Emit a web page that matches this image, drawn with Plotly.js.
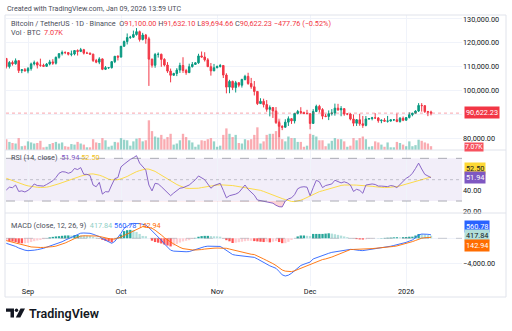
<!DOCTYPE html>
<html><head><meta charset="utf-8">
<script src="https://cdn.plot.ly/plotly-3.0.1.min.js"></script>
<style>html,body{margin:0;padding:0;background:#fff}#c{width:512px;height:331px}</style>
</head><body><div id="c"></div>
<script>
// ---- data (BTCUSDT 1D, Binance) ----
const startDate = '2025-08-25';
const open = [113500,110100,111800,111250,112550,108400,108800,
108250,109250,111200,111700,110700,110650,110200,111150,112050,111500,113950,115500,116000,115950,115250,115350,116800,116450,117150,115700,115700,115300,112650,111950,113300,108950,109650,109650,112150,114400,
114050,118600,120550,122250,122400,123500,124700,121400,123300,121700,113200,110650,115150,115250,113100,110750,108200,106450,107200,108650,110550,108450,107550,110050,111000,111650,114550,114100,112900,110050,108300,
109600,110100,110550,106550,101500,103900,101300,103350,102300,104700,106000,103000,101650,99700,94600,95550,94200,92200,92950,91550,86650,85100,84700,86850,88300,87350,90500,91300,90900,90400,
90400,86300,91300,93450,92100,89350,89250,90400,90650,92700,92000,92500,90250,90250,88150,86400,87850,86150,85500,88150,88350,88650,88600,87450,87650,87250,87300,87800,87850,87150,88450,
87650,88750,89950,90600,91500,93850,93750,91250,91100];
const high = [113650,112400,112600,113500,112650,108950,109500,
109900,111750,112600,112200,113400,111300,111600,112900,113200,114300,115600,116800,116450,116150,116800,117000,117300,117900,117500,116300,115950,115450,113300,114000,113500,110300,109800,112400,114450,114850,
118650,121000,123950,122950,125150,126200,125150,124200,123750,122550,113400,115800,116000,115500,113600,111950,109250,107500,109450,111700,114000,109150,111300,112000,111950,115450,116400,116100,113650,111600,111200,
110550,111200,110750,107300,104550,104200,104100,103450,105000,106650,107500,105350,104050,99850,96850,96650,96050,93850,92950,93150,87450,85550,88050,89250,88500,90650,91950,93100,91200,92000,
90400,92300,94150,94100,92700,90300,91750,92300,94600,94500,93550,92750,90650,90550,90050,88150,90350,89450,89400,88550,89050,90600,88950,88000,88500,89450,87950,88100,90400,89000,89200,
88900,90950,90750,91800,94800,94800,93850,91550,91632.10];
const low = [109300,109300,110500,110900,107400,107350,108100,
107300,108400,110550,109300,110000,109900,110000,110600,110800,110950,113400,114750,115300,114750,114400,114800,114700,116150,115150,115500,115200,112000,111500,111100,108600,108650,109100,109250,111550,112650,
113950,118400,119350,121650,122100,123050,120550,121050,119650,102000,109650,109600,113850,110000,110150,107450,103500,106350,106100,107450,107450,106650,107500,109700,110850,111250,113850,112200,109950,106300,108200,
109400,109700,105300,98900,98950,100250,99250,101450,101300,104300,102450,100800,98000,94000,94550,93000,91200,89250,88600,86100,80600,83500,84650,85250,86100,86300,90100,90200,90250,90350,
83850,86200,91050,90900,88050,88900,87700,89600,89550,91550,89300,89500,89750,87600,85150,85250,85300,84450,85100,87850,87600,88150,86600,86400,86950,86650,87100,87300,86800,86600,87250,
87550,88400,89300,90500,91100,91250,90700,89350,89694.66];
const close = [110100,111800,111250,112550,108400,108800,108250,
109250,111200,111700,110700,110650,110200,111150,112050,111500,113950,115500,116000,115950,115250,115350,116800,116450,117150,115700,115700,115300,112650,111950,113300,108950,109650,109650,112150,114400,114050,
118600,120550,122250,122400,123500,124700,121400,123300,121700,113200,110650,115150,115250,113100,110750,108200,106450,107200,108650,110550,108450,107550,110050,111000,111650,114550,114100,112900,110050,108300,109600,
110100,110550,106550,101500,103900,101300,103350,102300,104700,106000,103000,101650,99700,94600,95550,94200,92200,92950,91550,86650,85100,84700,86850,88300,87350,90500,91300,90900,90400,90400,
86300,91300,93450,92100,89350,89250,90400,90650,92700,92000,92500,90250,90250,88150,86400,87850,86150,85500,88150,88350,88650,88600,87450,87650,87250,87300,87800,87850,87150,88450,87650,
88750,89950,90600,91500,93850,93750,91250,91100,90622.23];
const lastChange = '\u2212477.76 (\u22120.52%)';
const volume = [20000,15000,13000,12000,22000,7000,8000,
16000,14000,12000,13000,17000,5000,6000,11000,13000,15000,12000,14000,7000,6000,11000,10000,15000,12000,10000,5000,5000,20000,14000,13000,22000,18000,6000,8000,15000,14000,
22000,19000,18000,8000,16000,21000,22000,16000,18000,55000,35000,25000,23000,28000,20000,24000,30000,10000,12000,18000,30000,24000,18000,14000,6000,10000,18000,17000,20000,22000,16000,
6000,8000,28000,40000,30000,24000,28000,13000,12000,20000,18000,20000,28000,42000,12000,16000,28000,30000,30000,35000,58000,20000,16000,25000,22000,22000,15000,15000,6000,8000,
30000,28000,25000,18000,18000,7000,12000,17000,22000,20000,20000,16000,6000,8000,22000,18000,22000,25000,20000,6000,7000,16000,14000,10000,6000,14000,5000,5000,15000,13000,10000,
7000,16000,7000,9000,19000,17000,14000,12000,7070];
const rsi = [40.3,43,42.5,45,39,39.5,38.5,40,42.5,46,
44.5,44.5,44,45.5,47.5,49,52,56,57.5,57.2,
56,57,60.5,59.5,61.3,55,55,54,45,43.4,
47.5,36.5,38.8,38.5,45,51,52,62,64.5,67,
69,70.5,72.5,65.5,62,59,45,39.5,46.6,46,
43.5,40.5,37,35,37.5,40,42,42.5,43.5,45,
47.5,50,53.5,52,50,46,42,44.5,45.5,46.6,
40,33,35,35.5,36.5,38,41,45,41,38,
35.5,31,30.5,30,29.5,28.8,28,26,24.7,24.5,
30,32,33,36,41.5,43,43.4,43,35,42.5,
49.5,48,42.6,44.5,45.5,46,49.5,48,47,48,
47,45,39,41,40,37.3,45,45.5,46,45.5,
44,44,43.5,43.5,44.5,44,42.6,45.5,49,51.3,
53,56,60.5,65.5,60,55,53.5,51.94];
const rsiMA = [51.3,50.2,49,47.8,46.6,45.8,45,44.2,43.6,43.2,
42.9,42.7,42.6,43,43.6,44.3,45.2,46.2,47.2,48.3,
49.3,50.3,51.3,52.3,53.3,54.1,54.8,55.3,55.4,55,
54.2,53.2,51.6,50.5,49.9,49.7,50,50.8,51.8,53,
54.6,56.2,57.5,58.5,59.3,60,59.9,59.2,57.8,56,
54.2,52,50.2,48.4,46.8,45.5,44.2,43,42,41.8,
41.7,41.8,42,42.6,43.2,43.8,44.4,44.8,45,45.2,
45.2,45,44.8,44.5,44,43.5,43,42.6,42.2,41.8,
41.5,41,40,39,37.8,36.6,35.4,34.2,33.2,32.3,
31.4,30.5,29.6,29.5,30,30.8,32,33.5,35,36.5,
37.7,38.8,39.6,40.5,41.4,42.4,43.2,44,44.6,45,
45.2,45.2,45,44.9,44.8,44.7,44.5,44.2,43.8,43.4,
43,42.8,42.6,42.7,42.9,43.2,43.6,44.2,45,45.8,
46.5,47.2,48,49,50,51.1,51.9,52.5];
const macd = [-800,-950,-1100,-1300,-1550,-1750,-1900,-1980,-1980,-1900,
-1820,-1750,-1600,-1420,-1250,-1100,-950,-760,-550,-300,
-60,200,450,680,820,850,830,800,650,470,
270,-50,-330,-600,-800,-500,100,800,1600,2000,
2250,2380,2400,2350,2250,2130,1700,1220,700,250,
-300,-900,-1450,-1900,-2050,-2100,-2130,-2150,-2150,-2120,
-1950,-1800,-1620,-1450,-1330,-1260,-1250,-1260,-1250,-1300,
-1600,-1900,-2200,-2600,-2700,-2750,-2800,-2830,-2850,-2950,
-3050,-3300,-3600,-3900,-4100,-4400,-4600,-4800,-5300,-5850,
-6030,-5900,-5600,-5200,-4700,-4350,-4150,-3950,-3800,-3300,
-3100,-2900,-2700,-2550,-2400,-2250,-2150,-2050,-1970,-1900,
-1820,-1770,-1800,-1900,-1950,-1970,-1900,-1800,-1700,-1600,
-1550,-1480,-1420,-1350,-1270,-1150,-1050,-950,-800,-650,
-450,-270,100,530,680,700,640,560.78];
const signal = [-370,-480,-580,-700,-800,-950,-1100,-1250,-1380,-1440,
-1470,-1470,-1460,-1440,-1400,-1330,-1250,-1100,-950,-750,
-520,-250,-50,150,350,400,420,420,400,370,
300,200,80,-100,-150,-100,0,200,450,700,
900,1070,1400,1650,1870,1800,1700,1600,1300,950,
530,100,-300,-600,-900,-1200,-1450,-1650,-1760,-1820,
-1860,-1870,-1870,-1800,-1720,-1650,-1600,-1580,-1560,-1560,
-1580,-1600,-1720,-1850,-2000,-2130,-2250,-2370,-2450,-2550,
-2600,-2800,-3050,-3300,-3550,-3750,-4050,-4350,-4700,-5070,
-5250,-5330,-5330,-5200,-5000,-4800,-4600,-4350,-4150,-4000,
-3800,-3600,-3400,-3300,-3200,-3000,-2800,-2600,-2400,-2200,
-2000,-1800,-1780,-1770,-1770,-1770,-1740,-1700,-1650,-1600,
-1570,-1530,-1480,-1440,-1380,-1300,-1220,-1100,-980,-850,
-700,-530,-350,-150,20,100,130,142.94];
const monthTicks = ['2025-09-01','2025-10-01','2025-11-01','2025-12-01','2026-01-01'];
const monthLabels = ['Sep','Oct','Nov','Dec','2026'];
const priceTicks = [80000,90000,100000,110000,120000,130000];
const priceLabels = ['80,000.00','','100,000.00','110,000.00','120,000.00','130,000.00'];

// ---- build ----
const dates = open.map((_, i) => { const d = new Date(Date.parse(startDate + 'T00:00:00Z') + i*86400000); return d.toISOString().slice(0,10); });
const UP = '#089981', DN = '#f23645';
const volColors = close.map((c,i) => c >= open[i] ? 'rgba(8,153,129,0.42)' : 'rgba(242,54,69,0.42)');
const hist = macd.map((m,i) => m - signal[i]);
const histColors = hist.map((h,i) => { const p = i ? hist[i-1] : h; return h >= 0 ? (h >= p ? '#26a69a' : '#b2dfdb') : (h < p ? '#ff5252' : '#ffcdd2'); });
const px = x => x/512, py = y => 1 - y/331;
const F = 'Roboto, "Liberation Sans", sans-serif';
const TXT = '#131722';

const traces = [
  {type:'bar', x:dates, y:volume, xaxis:'x', yaxis:'y', marker:{color:volColors, line:{width:0}}, hoverinfo:'skip'},
  {type:'candlestick', x:dates, open:open, high:high, low:low, close:close, xaxis:'x', yaxis:'y2',
   increasing:{line:{color:UP, width:1}, fillcolor:UP}, decreasing:{line:{color:DN, width:1}, fillcolor:DN}, whiskerwidth:0, hoverinfo:'skip'},
  {type:'scatter', mode:'lines', x:dates, y:rsi.map(()=>30), xaxis:'x', yaxis:'y3', line:{width:0}, hoverinfo:'skip'},
  {type:'scatter', mode:'lines', x:dates, y:rsi.map(v=>Math.min(v,30)), xaxis:'x', yaxis:'y3', line:{width:0}, fill:'tonexty', fillcolor:'rgba(242,54,69,0.22)', hoverinfo:'skip'},
  {type:'scatter', mode:'lines', x:dates, y:rsiMA, xaxis:'x', yaxis:'y3', line:{color:'#fdd835', width:0.9}, hoverinfo:'skip'},
  {type:'scatter', mode:'lines', x:dates, y:rsi, xaxis:'x', yaxis:'y3', line:{color:'#7e57c2', width:0.9}, hoverinfo:'skip'},
  {type:'bar', x:dates, y:hist, xaxis:'x', yaxis:'y4', marker:{color:histColors, line:{width:0}}, hoverinfo:'skip'},
  {type:'scatter', mode:'lines', x:dates, y:macd, xaxis:'x', yaxis:'y4', line:{color:'#2962ff', width:0.9}, hoverinfo:'skip'},
  {type:'scatter', mode:'lines', x:dates, y:signal, xaxis:'x', yaxis:'y4', line:{color:'#ff6d00', width:0.9}, hoverinfo:'skip'}
];

const tf = {family:F, size:7.3, color:TXT};
const grid = '#f0f3fa';
const layout = {
  width:512, height:331, margin:{l:0,r:0,t:0,b:0}, paper_bgcolor:'#fff', plot_bgcolor:'rgba(0,0,0,0)',
  showlegend:false, bargap:0.25, font:{family:F, size:7.3, color:TXT},
  xaxis:{type:'date', domain:[px(6),px(462)], range:['2025-08-24 21:40','2026-01-19 00:00'], anchor:'y4',
    tickvals:monthTicks, ticktext:monthLabels, showgrid:true, gridcolor:grid, zeroline:false, showline:false, ticks:'', tickfont:tf,
    rangeslider:{visible:false}, fixedrange:true},
  yaxis:{domain:[py(150),py(15)], range:[0,250000], showgrid:false, zeroline:false, showticklabels:false, showline:false, fixedrange:true},
  yaxis2:{overlaying:'y', side:'right', anchor:'x', range:[75190,131670], tickvals:priceTicks, ticktext:priceLabels,
    showgrid:true, gridcolor:grid, zeroline:false, showline:false, ticks:'', tickfont:tf, fixedrange:true},
  yaxis3:{domain:[py(213),py(150)], side:'right', anchor:'x', range:[18.8,77.8], tickvals:[20,40,60], ticktext:['20.00','40.00',''],
    showgrid:false, zeroline:false, showline:false, ticks:'', tickfont:tf, fixedrange:true},
  yaxis4:{domain:[py(286),py(213)], side:'right', anchor:'x', range:[-7632,4048], tickvals:[-4000,0], ticktext:['\u22124,000.00',''],
    showgrid:true, gridcolor:grid, zeroline:false, showline:false, ticks:'', tickfont:tf, fixedrange:true},
  shapes:[
    {type:'rect', xref:'x domain', yref:'y3', x0:0, x1:1, y0:30, y1:70, fillcolor:'rgba(126,87,194,0.1)', line:{width:0}, layer:'below'},
    {type:'line', xref:'x domain', yref:'y3', x0:0, x1:1, y0:70, y1:70, line:{color:'rgba(120,123,134,0.6)', width:1, dash:'dash'}},
    {type:'line', xref:'x domain', yref:'y3', x0:0, x1:1, y0:50, y1:50, line:{color:'rgba(120,123,134,0.4)', width:1, dash:'dot'}},
    {type:'line', xref:'x domain', yref:'y3', x0:0, x1:1, y0:30, y1:30, line:{color:'rgba(120,123,134,0.6)', width:1, dash:'dash'}},
    {type:'line', xref:'x domain', yref:'y2', x0:0, x1:1, y0:close[close.length-1], y1:close[close.length-1], line:{color:'rgba(242,54,69,0.45)', width:1, dash:'dot'}},
    {type:'line', xref:'x domain', yref:'y4', x0:0, x1:1, y0:0, y1:0, line:{color:'rgba(120,123,134,0.35)', width:1, dash:'dash'}},
    {type:'rect', xref:'paper', yref:'paper', x0:px(5), x1:px(506), y0:py(297), y1:py(15), line:{color:'#e0e3eb', width:1}},
    {type:'line', xref:'paper', yref:'paper', x0:px(5), x1:px(506), y0:py(150), y1:py(150), line:{color:'#e0e3eb', width:1}},
    {type:'line', xref:'paper', yref:'paper', x0:px(5), x1:px(506), y0:py(213), y1:py(213), line:{color:'#e0e3eb', width:1}},
    // TradingView logo
    {type:'path', xref:'paper', yref:'paper', fillcolor:TXT, line:{width:0},
     path:`M ${px(6)} ${py(308.5)} L ${px(14)} ${py(308.5)} L ${px(14)} ${py(317.5)} L ${px(10.5)} ${py(317.5)} L ${px(10.5)} ${py(311.8)} L ${px(6)} ${py(311.8)} Z`},
    {type:'circle', xref:'paper', yref:'paper', fillcolor:TXT, line:{width:0}, x0:px(14.8), x1:px(18.2), y0:py(311.9), y1:py(308.5)},
    {type:'path', xref:'paper', yref:'paper', fillcolor:TXT, line:{width:0},
     path:`M ${px(20.5)} ${py(308.5)} L ${px(25)} ${py(308.5)} L ${px(20.3)} ${py(317.5)} L ${px(15.8)} ${py(317.5)} Z`}
  ],
  annotations:[]
};
const A = (x,y,text,opt={}) => Object.assign({xref:'paper', yref:'paper', x:px(x), y:py(y), xanchor:'left', yanchor:'middle', text:text, showarrow:false,
  font:{family:F, size:7.3, color:TXT}}, opt);
const red = s => `<span style="color:${DN}">${s}</span>`;
const n = close.length - 1;
const fmt = (v,d) => v.toLocaleString('en-US',{minimumFractionDigits:d, maximumFractionDigits:d});
layout.annotations.push(
  A(5, 8, 'Created with TradingView.com, Jan 09, 2026 13:59 UTC', {font:{family:F, size:7.1, color:'#4a4e59'}}),
  A(9, 23.5, `Bitcoin / TetherUS · 1D · Binance  O${red(fmt(open[n],2))} H${red(fmt(high[n],2))} L${red(fmt(low[n],2))} C${red(fmt(close[n],2))} ${red(lastChange)}`, {font:{family:F, size:7.3, color:'#4a4e59'}}),
  A(9, 33, `Vol · BTC  ${red((volume[n]/1000).toFixed(2)+'K')}`, {font:{family:F, size:7.3, color:'#4a4e59'}}),
  A(9, 157.5, `RSI (14, close)  <span style="color:#7e57c2">${rsi[n].toFixed(2)}</span> <span style="color:#f2c21b">${rsiMA[n].toFixed(2)}</span>`, {font:{family:F, size:7.3, color:'#4a4e59'}}),
  A(9, 225, `MACD (close, 12, 26, 9)  <span style="color:#8fcfc6">${hist[n].toFixed(2)}</span> <span style="color:#2962ff">${macd[n].toFixed(2)}</span> <span style="color:#ff6d00">${signal[n].toFixed(2)}</span>`, {font:{family:F, size:7.3, color:'#4a4e59'}}),
  A(464, 112.7, fmt(close[n],2), {bgcolor:DN, borderpad:1, font:{family:F, size:7.3, color:'#fff'}}),
  A(464, 146.6, (volume[n]/1000).toFixed(2)+'K', {bgcolor:'#f7525f', borderpad:0, font:{family:F, size:6.8, color:'#fff'}}),
  A(464, 168, rsiMA[n].toFixed(2), {bgcolor:'#fdd835', borderpad:1, font:{family:F, size:7.3, color:TXT}}),
  A(464, 177.4, rsi[n].toFixed(2), {bgcolor:'#7e57c2', borderpad:1, font:{family:F, size:7.3, color:'#fff'}}),
  A(464, 226.7, macd[n].toFixed(2), {bgcolor:'#2962ff', borderpad:1, font:{family:F, size:7.3, color:'#fff'}}),
  A(464, 236, hist[n].toFixed(2), {bgcolor:'#b2dfdb', borderpad:1, font:{family:F, size:7.3, color:TXT}}),
  A(464, 245.3, signal[n].toFixed(2), {bgcolor:'#ff6d00', borderpad:1, font:{family:F, size:7.3, color:'#fff'}}),
  A(27, 313, 'TradingView', {font:{family:F, size:12.5, color:TXT, weight:600}})
);
Plotly.newPlot('c', traces, layout, {staticPlot:true, displayModeBar:false});
</script></body></html>
